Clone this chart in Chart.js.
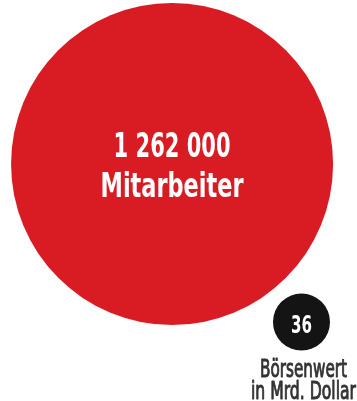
<!DOCTYPE html>
<html>
<head>
<meta charset="utf-8">
<script src="https://cdn.jsdelivr.net/npm/chart.js@4/dist/chart.umd.min.js"></script>
<style>
html,body{margin:0;padding:0;background:#fff;}
#wrap{width:357px;height:401px;}
</style>
</head>
<body>
<div id="wrap"><canvas id="c" width="357" height="401"></canvas></div>
<script>
// Data
const categories = ["Mitarbeiter", "Börsenwert in Mrd. Dollar"];
const values = [1262000, 36];
const valueLabels = ["1 262 000", "36"];
const captionLines = [["Mitarbeiter"], ["Börsenwert", "in Mrd. Dollar"]];
// layout positions (percent of canvas)
const posX = [48.2, 84.45];
const posY = [59.1, 19.7];

const colors = ["#d91b24", "#141414"];
const radii = [161, 28.5];

const labelPlugin = {
  id: 'labels',
  afterDatasetsDraw(chart) {
    const ctx = chart.ctx;
    const meta = chart.getDatasetMeta(0);
    ctx.save();
    ctx.textAlign = 'center';
    ctx.textBaseline = 'alphabetic';
    // red bubble
    const p0 = meta.data[0];
    ctx.fillStyle = '#ffffff';
    ctx.font = 'bold 33px "DejaVu Sans Condensed", "DejaVu Sans", sans-serif';
    ctx.fillText(valueLabels[0], p0.x, p0.y - 7, 117);
    ctx.fillText(captionLines[0][0], p0.x, p0.y + 33, 143);
    // black bubble
    const p1 = meta.data[1];
    ctx.font = 'bold 25px "DejaVu Sans Condensed", "DejaVu Sans", sans-serif';
    ctx.fillText(valueLabels[1], p1.x, p1.y + 11, 21);
    ctx.fillStyle = '#333333';
    ctx.strokeStyle = '#333333';
    ctx.lineWidth = 0.9;
    ctx.lineJoin = 'round';
    ctx.font = '24px "DejaVu Sans Condensed", "DejaVu Sans", sans-serif';
    ctx.fillText(captionLines[1][0], p1.x + 2, p1.y + 55, 87);
    ctx.strokeText(captionLines[1][0], p1.x + 2, p1.y + 55, 87);
    ctx.fillText(captionLines[1][1], p1.x + 2, p1.y + 77, 105);
    ctx.strokeText(captionLines[1][1], p1.x + 2, p1.y + 77, 105);
    ctx.restore();
  }
};

new Chart(document.getElementById('c'), {
  type: 'bubble',
  data: {
    labels: categories,
    datasets: [{
      label: 'Daten',
      data: values.map((v, i) => ({x: posX[i], y: posY[i], r: radii[i], v: v})),
      backgroundColor: colors,
      borderWidth: 0,
      hoverRadius: 0,
      hoverBorderWidth: 0,
      clip: false
    }]
  },
  options: {
    responsive: false,
    animation: false,
    events: [],
    layout: {padding: 0, autoPadding: false},
    plugins: {legend: {display: false}, tooltip: {enabled: false}},
    scales: {
      x: {type: 'linear', min: 0, max: 100, display: false},
      y: {type: 'linear', min: 0, max: 100, display: false}
    }
  },
  plugins: [labelPlugin]
});
</script>
</body>
</html>
